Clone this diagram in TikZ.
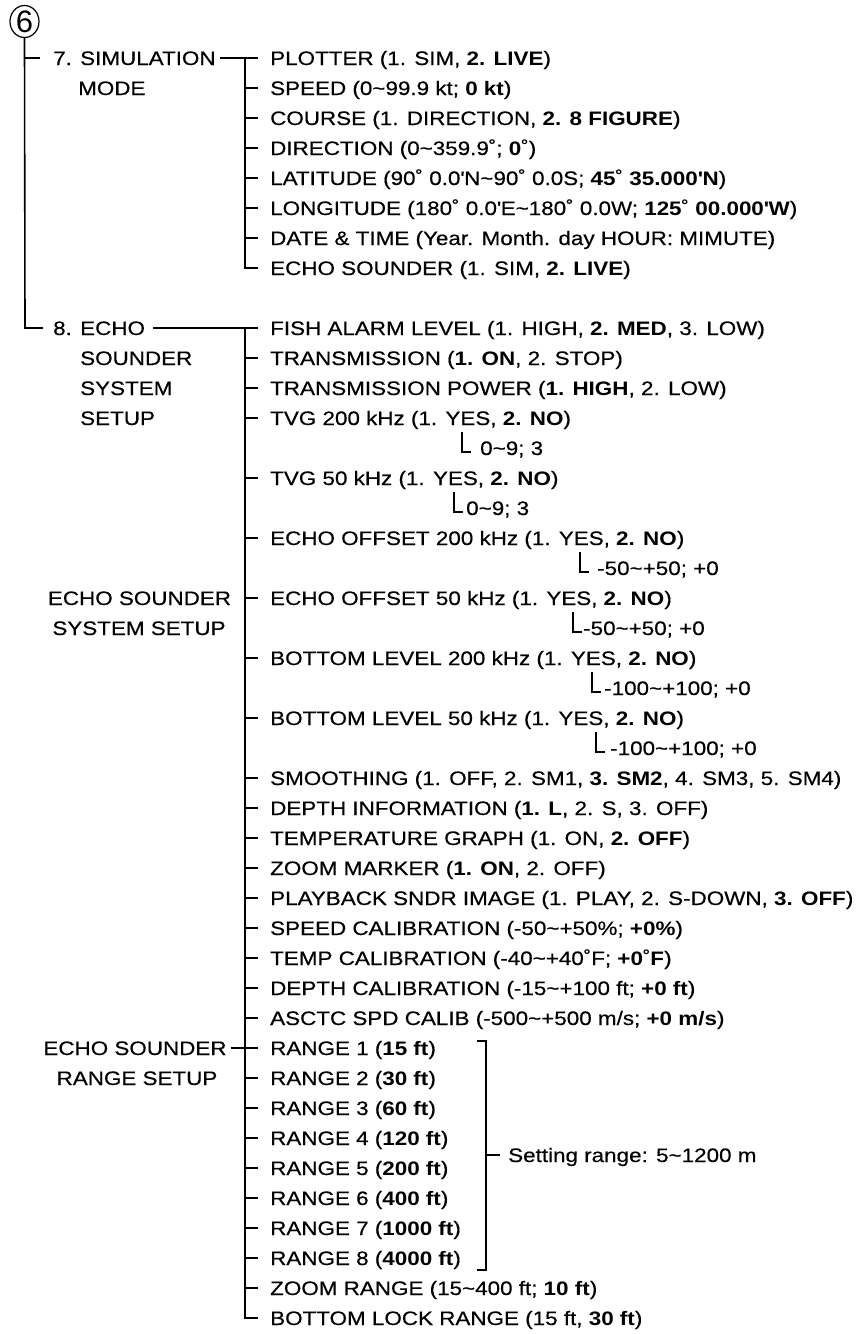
\documentclass[tikz,border=0pt]{standalone}
\usepackage{fontspec}
\setmainfont{Liberation Sans}[FakeStretch=1.15, UprightFeatures={FakeBold=0.4}]
\newfontfamily\sixfont{Liberation Sans}
\usetikzlibrary{shapes.geometric}
\newcommand\tld{\textasciitilde}
\newcommand\ap{\textquotesingle}
\newcommand\dg{˚}
\tikzset{
  txt/.style={anchor=west, inner sep=0pt, text height=19pt, text depth=5pt, font=\fontsize{19.5}{22}\selectfont},
  lbl/.style={txt, anchor=center},
  ln/.style={line width=1.6pt},
  subln/.style={line width=1.3pt},
}
\newcommand\subrow[5]{\node[txt] (#1) at (#2,#3) {#5};
  \draw[subln] ([xshift=-#4pt,yshift=16pt]#1.west) |- ([xshift=-#4pt+9pt,yshift=-4pt]#1.west);}
\begin{document}
\begin{tikzpicture}[x=1pt,y=-1pt]
\fill[white] (0,0) rectangle (860,1334);
\useasboundingbox (0,0) rectangle (860,1334);
% circled 6
\node[draw, ellipse, line width=1.2pt, minimum width=29pt, minimum height=32pt, inner sep=0pt] (six) at (24.5,21.5) {\sixfont\fontsize{31}{31}\selectfont 6};
% left labels
\node[txt] (m7) at (53,58) {7. SIMULATION};
\node[txt] (m7b) at (78,88) {MODE};
\node[txt] (m8) at (53,328) {8. ECHO};
\node[txt] (m8b) at (80,358) {SOUNDER};
\node[txt] (m8c) at (80,388) {SYSTEM};
\node[txt] (m8d) at (80,418) {SETUP};
\node[lbl] (ess1) at (139.5,598) {ECHO SOUNDER};
\node[lbl] (ess2) at (139,628) {SYSTEM SETUP};
\node[lbl] (esr1) at (135,1048) {ECHO SOUNDER};
\node[lbl] (esr2) at (137,1078) {RANGE SETUP};
% section 7 items
\node[txt] (p0) at (270,58) {PLOTTER (1. SIM, \textbf{2. LIVE})};
\node[txt] (p1) at (270,88) {SPEED (0\tld99.9 kt; \textbf{0 kt})};
\node[txt] (p2) at (270,118) {COURSE (1. DIRECTION, \textbf{2. 8 FIGURE})};
\node[txt] (p3) at (270,148) {DIRECTION (0\tld359.9\dg; \textbf{0\dg})};
\node[txt] (p4) at (270,178) {LATITUDE (90\dg\ 0.0\ap N\tld90\dg\ 0.0S; \textbf{45\dg\ 35.000\ap N})};
\node[txt] (p5) at (270,208) {LONGITUDE (180\dg\ 0.0\ap E\tld180\dg\ 0.0W; \textbf{125\dg\ 00.000\ap W})};
\node[txt] (p6) at (270,238) {DATE \& TIME (Year. Month. day HOUR: MIMUTE)};
\node[txt] (p7) at (270,268) {ECHO SOUNDER (1. SIM, \textbf{2. LIVE})};
% section 8 items
\node[txt] (q9) at (270,328) {FISH ALARM LEVEL (1. HIGH, \textbf{2. MED}, 3. LOW)};
\node[txt] (q10) at (270,358) {TRANSMISSION (\textbf{1. ON}, 2. STOP)};
\node[txt] (q11) at (270,388) {TRANSMISSION POWER (\textbf{1. HIGH}, 2. LOW)};
\node[txt] (q12) at (270,418) {TVG 200 kHz (1. YES, \textbf{2. NO})};
\subrow{s13}{480}{448}{18}{0\tld9; 3}
\node[txt] (q14) at (270,478) {TVG 50 kHz (1. YES, \textbf{2. NO})};
\subrow{s15}{466}{508}{12}{0\tld9; 3}
\node[txt] (q16) at (270,538) {ECHO OFFSET 200 kHz (1. YES, \textbf{2. NO})};
\subrow{s17}{597}{568}{17}{-50\tld+50; +0}
\node[txt] (q18) at (270,598) {ECHO OFFSET 50 kHz (1. YES, \textbf{2. NO})};
\subrow{s19}{583}{628}{10}{-50\tld+50; +0}
\node[txt] (q20) at (270,658) {BOTTOM LEVEL 200 kHz (1. YES, \textbf{2. NO})};
\subrow{s21}{604}{688}{12}{-100\tld+100; +0}
\node[txt] (q22) at (270,718) {BOTTOM LEVEL 50 kHz (1. YES, \textbf{2. NO})};
\subrow{s23}{610}{748}{14}{-100\tld+100; +0}
\node[txt] (q24) at (270,778) {SMOOTHING (1. OFF, 2. SM1, \textbf{3. SM2}, 4. SM3, 5. SM4)};
\node[txt] (q25) at (270,808) {DEPTH INFORMATION (\textbf{1. L}, 2. S, 3. OFF)};
\node[txt] (q26) at (270,838) {TEMPERATURE GRAPH (1. ON, \textbf{2. OFF})};
\node[txt] (q27) at (270,868) {ZOOM MARKER (\textbf{1. ON}, 2. OFF)};
\node[txt] (q28) at (270,898) {PLAYBACK SNDR IMAGE (1. PLAY, 2. S-DOWN, \textbf{3. OFF})};
\node[txt] (q29) at (270,928) {SPEED CALIBRATION (-50\tld+50\%; \textbf{+0\%})};
\node[txt] (q30) at (270,958) {TEMP CALIBRATION (-40\tld+40\dg F; \textbf{+0\dg F})};
\node[txt] (q31) at (270,988) {DEPTH CALIBRATION (-15\tld+100 ft; \textbf{+0 ft})};
\node[txt] (q32) at (270,1018) {ASCTC SPD CALIB (-500\tld+500 m/s; \textbf{+0 m/s})};
\node[txt] (q33) at (270,1048) {RANGE 1 (\textbf{15 ft})};
\node[txt] (q34) at (270,1078) {RANGE 2 (\textbf{30 ft})};
\node[txt] (q35) at (270,1108) {RANGE 3 (\textbf{60 ft})};
\node[txt] (q36) at (270,1138) {RANGE 4 (\textbf{120 ft})};
\node[txt] (q37) at (270,1168) {RANGE 5 (\textbf{200 ft})};
\node[txt] (q38) at (270,1198) {RANGE 6 (\textbf{400 ft})};
\node[txt] (q39) at (270,1228) {RANGE 7 (\textbf{1000 ft})};
\node[txt] (q40) at (270,1258) {RANGE 8 (\textbf{4000 ft})};
\node[txt] (q41) at (270,1288) {ZOOM RANGE (15\tld400 ft; \textbf{10 ft})};
\node[txt] (q42) at (270,1318) {BOTTOM LOCK RANGE (15 ft, \textbf{30 ft})};
% trunks
\coordinate (tM) at (25,58);
\coordinate (tA) at (245,58);
\coordinate (tB) at (245,328);
\draw[ln] (six.south) -- (tM |- m8.west) -- ([xshift=-10pt]m8.west);
\draw[ln] (tM |- m7.west) -- ([xshift=-13pt]m7.west);
\draw[ln] ([xshift=4pt]m7.east) -- ([xshift=-12pt]p0.west);
\draw[ln] (tA) -- (tA |- p7.west) -- ([xshift=-12pt]p7.west);
\foreach \n in {p1,p2,p3,p4,p5,p6}
  \draw[ln] (tA |- \n.west) -- ([xshift=-12pt]\n.west);
\draw[ln] ([xshift=8pt]m8.east) -- ([xshift=-12pt]q9.west);
\draw[ln] (tB) -- (tB |- q42.west) -- ([xshift=-12pt]q42.west);
\foreach \n in {q10,q11,q12,q14,q16,q18,q20,q22,q24,q25,q26,q27,q28,q29,q30,q31,q32,q33,q34,q35,q36,q37,q38,q39,q40,q41}
  \draw[ln] (tB |- \n.west) -- ([xshift=-12pt]\n.west);
\draw[ln] ([xshift=4pt]esr1.east) -- (tB |- esr1.east);
% bracket
\coordinate (bt) at (486,1041);
\coordinate (bb) at (486,1270);
\node[txt] (setr) at (508,1155) {Setting range: 5\tld1200 m};
\draw[ln] ([xshift=-9pt]bt) -- (bt) -- (bb) -- ([xshift=-9pt]bb);
\draw[ln] (bt |- setr.west) -- ([xshift=-8pt]setr.west);
\end{tikzpicture}
\end{document}
